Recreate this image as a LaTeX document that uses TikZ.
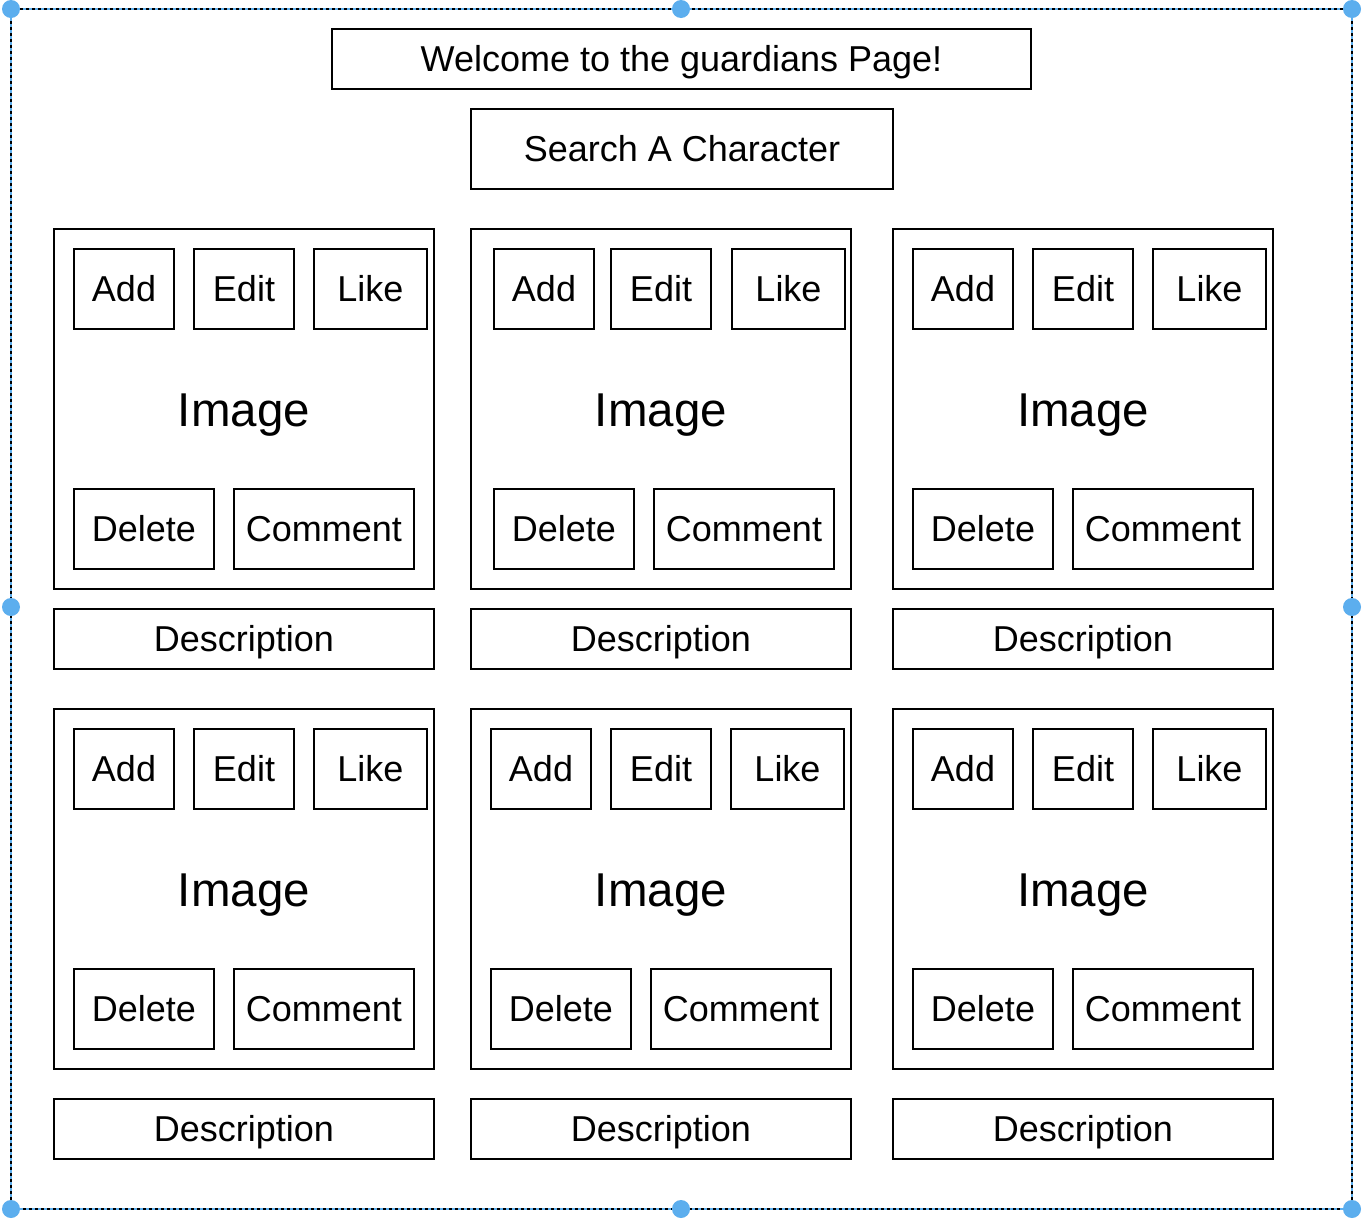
\documentclass[tikz,border=0pt]{standalone}
\usepackage{fontspec}
\setmainfont{Liberation Sans}
\definecolor{selblue}{RGB}{92,174,238}
\newcommand{\btnfont}{\fontsize{36}{40}\selectfont}
\newcommand{\imgfont}{\fontsize{47.5}{52}\selectfont}
\newcommand{\bx}[6]{%
  \node[box, minimum width={(#5)-(#3)}, minimum height={(#6)-(#4)}] (#1) at ({((#3)+(#5))/2},{((#4)+(#6))/2}) {#2};}
\newcommand{\card}[8]{% #1 prefix, #2 dx, #3 dy, #4 add x, #5 edit x, #6 like x, #7 delete x, #8 comment x
  \bx{#1o}{}{#2}{#3}{#2+380}{#3+360}
  \bx{#1add}{Add}{#4}{#3+20}{#4+100}{#3+100}
  \bx{#1edit}{Edit}{#5}{#3+20}{#5+100}{#3+100}
  \bx{#1like}{Like}{#6}{#3+20}{#6+113}{#3+100}
  \bx{#1del}{Delete}{#7}{#3+260}{#7+140}{#3+340}
  \bx{#1com}{Comment}{#8}{#3+260}{#8+180}{#3+340}
  \node[imgtxt] (#1img) at (#1o.center) {Image};
}
\begin{document}
\begin{tikzpicture}[x=1pt,y=-1pt,
  box/.style={draw, line width=2pt, inner sep=0pt, outer sep=0pt, anchor=center,
    font=\btnfont, text height=25.8pt, text depth=0pt},
  imgtxt/.style={inner sep=0pt, anchor=center, font=\imgfont, text height=34pt, text depth=0pt}]
\useasboundingbox (0,0) rectangle (1366,1224);
\fill[white] (0,0) rectangle (1366,1224);
% selection frame
\coordinate (fa) at (11,9);
\coordinate (fb) at (1352,1209);
\draw[selblue, line width=2pt] (fa) rectangle (fb);
\draw[black, line width=2pt, dash pattern=on 3pt off 3pt] (fa) rectangle (fb);
\foreach \p in {(11,9),(681,9),(1352,9),(11,607),(1352,607),(11,1209),(681,1209),(1352,1209)}
  \fill[selblue] \p circle (9);
% header
\bx{title}{Welcome to the guardians Page!}{332}{29}{1031}{89}
\bx{search}{Search A Character}{471}{109}{893}{189}
% cards row 1
\card{a}{54}{229}{74}{194}{314}{74}{234}
\card{b}{471}{229}{494}{611}{732}{494}{654}
\card{c}{893}{229}{913}{1033}{1153}{913}{1073}
% cards row 2
\card{d}{54}{709}{74}{194}{314}{74}{234}
\card{e}{471}{709}{491}{611}{731}{491}{651}
\card{f}{893}{709}{913}{1033}{1153}{913}{1073}
% descriptions
\bx{adesc}{Description}{54}{609}{434}{669}
\bx{bdesc}{Description}{471}{609}{851}{669}
\bx{cdesc}{Description}{893}{609}{1273}{669}
\bx{ddesc}{Description}{54}{1099}{434}{1159}
\bx{edesc}{Description}{471}{1099}{851}{1159}
\bx{fdesc}{Description}{893}{1099}{1273}{1159}
\end{tikzpicture}
\end{document}
